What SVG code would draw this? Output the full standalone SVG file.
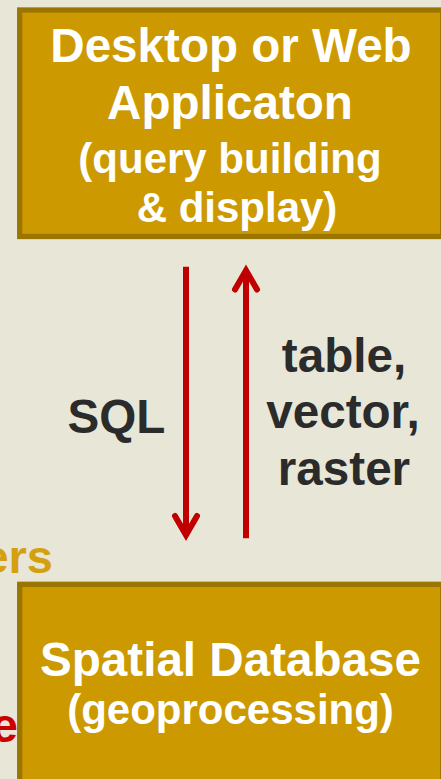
<svg xmlns="http://www.w3.org/2000/svg" width="441" height="779" viewBox="0 0 441 779">
<defs>
<style>
.box{fill:#cc9a00;stroke:#9a7500;stroke-width:5.3}
.t{font-family:"Liberation Sans",Arial,sans-serif;font-weight:bold;text-anchor:middle}
.w{fill:#ffffff}
.d{fill:#2b2b2b}
.big{font-size:47.6px}
.sm{font-size:42px}
.arr{stroke:#c00000;stroke-width:6;fill:none}
.head{stroke:#c00000;stroke-width:6;fill:none;stroke-linecap:round;stroke-linejoin:miter}
</style>
</defs>
<rect x="0" y="0" width="441" height="779" fill="#e8e6d7"/>
<text x="53" y="573" font-family="Liberation Sans, Arial, sans-serif" font-weight="bold" font-size="47" fill="#d4a010" text-anchor="end">ers</text>
<text x="18" y="742" font-family="Liberation Sans, Arial, sans-serif" font-weight="bold" font-size="48" fill="#cc0000" text-anchor="end">e</text>
<g id="app">
<rect class="box" x="19.7" y="10" width="423" height="226.5"/>
<text class="t w big" x="231" y="62">Desktop or Web</text>
<text class="t w big" x="230" y="119">Applicaton</text>
<text class="t w sm" x="230" y="173">(query building</text>
<text class="t w sm" x="237" y="221.5">&amp; display)</text>
</g>
<g id="db">
<rect class="box" x="19.7" y="584.3" width="423" height="220"/>
<text class="t w big" x="230.5" y="675.5">Spatial Database</text>
<text class="t w sm" x="230.5" y="724">(geoprocessing)</text>
</g>
<g id="connectors">
<line class="arr" x1="186" y1="266.7" x2="186" y2="533"/>
<polyline class="head" points="175,516 186,535 197,516"/>
<line class="arr" x1="246" y1="538.3" x2="246" y2="272"/>
<polyline class="head" points="235,289.5 246,270.5 257,289.5"/>
<text class="t d big" x="116.5" y="432.7">SQL</text>
<text class="t d big" x="344" y="371.7">table,</text>
<text class="t d big" x="343" y="428.3">vector,</text>
<text class="t d big" x="344" y="485">raster</text>
</g>
</svg>
